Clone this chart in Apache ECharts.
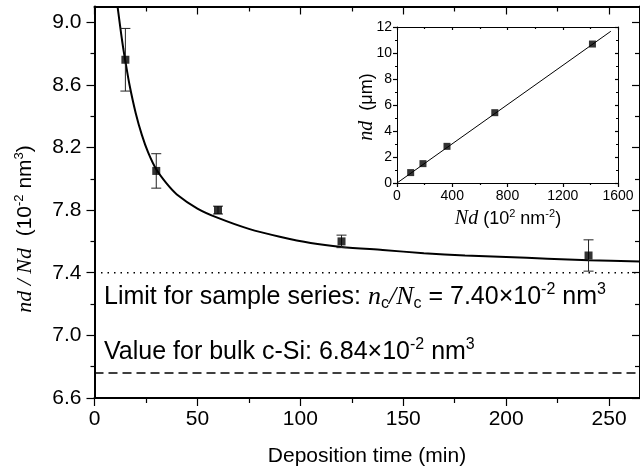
<!DOCTYPE html>
<html>
<head>
<meta charset="utf-8">
<script src="https://cdn.jsdelivr.net/npm/echarts@6/dist/echarts.min.js"></script>
<style>
  html, body { margin: 0; padding: 0; background: #fff; }
  #chart { width: 640px; height: 472px; }
</style>
</head>
<body>
<div id="chart"></div>
<script>
// main panel: nd/Nd against deposition time
const depTime = [15, 30, 60, 120, 240];
const ratio = [8.76, 8.05, 7.80, 7.60, 7.51];
const ratioErr = [0.20, 0.11, 0.025, 0.04, 0.10];

// fitted curve
const fitTime = [11.2, 12, 13, 14, 15, 17, 20, 23, 26, 30, 35, 40, 50, 60, 75, 90, 105, 120, 140, 160, 180, 200, 220, 240, 265];
const fitRatio = [9.10, 9.02, 8.92, 8.83, 8.75, 8.60, 8.42, 8.28, 8.17, 8.06, 7.97, 7.90, 7.81, 7.75, 7.68, 7.63, 7.59, 7.565, 7.545, 7.525, 7.51, 7.50, 7.49, 7.48, 7.472];

const limitLine = 7.40;
const bulkLine = 6.76; // where the dashed line is drawn in the figure

const timeTicks = [0, 50, 100, 150, 200, 250];
const timeMinor = [25, 75, 125, 175, 225];
const ratioTicks = [6.6, 7.0, 7.4, 7.8, 8.2, 8.6, 9.0];
const ratioMinor = [6.8, 7.2, 7.6, 8.0, 8.4, 8.8];

// inset: nd against Nd
const insetNd = [99, 188, 362, 708, 1415];
const insetnd = [0.80, 1.49, 2.82, 5.41, 10.69];
const insetFitNd = [0, 1548];
const insetFitnd = [0, 11.67];
const insetXTicks = [0, 400, 800, 1200, 1600];
const insetXMinor = [200, 600, 1000, 1400];
const insetYTicks = [0, 2, 4, 6, 8, 10, 12];
const insetYMinor = [1, 3, 5, 7, 9, 11];

const SANS = "Liberation Sans";
const SERIF = "Liberation Serif";

const chart = echarts.init(document.getElementById("chart"));

function tickAxis(grid, position, min, max, ticks, len, inside, extra) {
  return Object.assign({
    type: "value",
    gridIndex: grid,
    position: position,
    min: min,
    max: max,
    axisLine: { show: false, onZero: false },
    axisTick: { show: true, inside: inside, length: len, customValues: ticks, lineStyle: { color: "#000", width: 1.2 } },
    axisLabel: { show: false },
    splitLine: { show: false },
  }, extra || {});
}

const mainLine = { show: true, onZero: false, lineStyle: { color: "#000", width: 2 } };
const insetLine = { show: true, onZero: false, lineStyle: { color: "#000", width: 1 } };
const plain = (v) => String(v);

const xAxes = [
  tickAxis(0, "bottom", 0, 265, timeTicks, 8, false, {
    axisLine: mainLine,
    axisLabel: { show: true, customValues: timeTicks, fontFamily: SANS, fontSize: 21, color: "#000", margin: 11, formatter: plain },
  }),
  tickAxis(0, "bottom", 0, 265, timeMinor, 5, false),
  tickAxis(0, "top", 0, 265, timeTicks, 8, true, { axisLine: mainLine }),
  tickAxis(0, "top", 0, 265, timeMinor, 5, true),
  tickAxis(1, "bottom", 0, 1600, insetXTicks, 4, false, {
    axisLine: insetLine,
    axisLabel: { show: true, customValues: insetXTicks, fontFamily: SANS, fontSize: 14, color: "#000", margin: 6, formatter: plain },
  }),
  tickAxis(1, "bottom", 0, 1600, insetXMinor, 2, false),
  tickAxis(1, "top", 0, 1600, insetXTicks, 3, true, { axisLine: insetLine }),
  tickAxis(1, "top", 0, 1600, insetXMinor, 2, true),
];

const yAxes = [
  tickAxis(0, "left", 6.6, 9.1, ratioTicks, 8, false, {
    axisLine: mainLine,
    axisLabel: {
      show: true, customValues: ratioTicks, fontFamily: SANS, fontSize: 21, color: "#000", margin: 13,
      formatter: (v) => v.toFixed(1),
    },
  }),
  tickAxis(0, "left", 6.6, 9.1, ratioMinor, 4, false),
  tickAxis(0, "right", 6.6, 9.1, ratioTicks, 8, true, { axisLine: mainLine }),
  tickAxis(0, "right", 6.6, 9.1, ratioMinor, 5, true),
  tickAxis(1, "left", 0, 12, insetYTicks, 4, false, {
    axisLine: insetLine,
    axisLabel: { show: true, customValues: insetYTicks, fontFamily: SANS, fontSize: 14, color: "#000", margin: 5, formatter: plain },
  }),
  tickAxis(1, "left", 0, 12, insetYMinor, 2, false),
  tickAxis(1, "right", 0, 12, insetYTicks, 3, true, { axisLine: insetLine }),
  tickAxis(1, "right", 0, 12, insetYMinor, 2, true),
];

function richText(size, italicSize) {
  const small = Math.round(size * 0.62);
  return {
    s: { fontFamily: SANS, fontSize: size, lineHeight: size + 4, color: "#000" },
    i: { fontFamily: SERIF, fontStyle: "italic", fontSize: italicSize, lineHeight: size + 4, color: "#000" },
    sup: { fontFamily: SANS, fontSize: small, lineHeight: small, padding: [0, 0, Math.round(size * 0.55), 0], color: "#000" },
    sub: { fontFamily: SANS, fontSize: small, lineHeight: small, padding: [Math.round(size * 0.55), 0, 0, 0], color: "#000" },
  };
}

const option = {
  animation: false,
  backgroundColor: "#fff",
  grid: [
    { left: 94.5, top: 6.5, width: 550, height: 391.5 },
    { left: 397, top: 27, width: 221, height: 156 },
  ],
  xAxis: xAxes,
  yAxis: yAxes,
  series: [
    {
      name: "fit",
      type: "line",
      xAxisIndex: 0,
      yAxisIndex: 0,
      data: fitTime.map((t, i) => [t, fitRatio[i]]),
      smooth: 0.3,
      showSymbol: false,
      lineStyle: { color: "#000", width: 2 },
      clip: true,
      z: 3,
    },
    {
      name: "limit",
      type: "line",
      xAxisIndex: 0,
      yAxisIndex: 0,
      data: [[0, limitLine], [265, limitLine]],
      showSymbol: false,
      lineStyle: { color: "#000", width: 1.5, type: [1.5, 5] },
    },
    {
      name: "bulk",
      type: "line",
      xAxisIndex: 0,
      yAxisIndex: 0,
      data: [[0, bulkLine], [265, bulkLine]],
      showSymbol: false,
      lineStyle: { color: "#000", width: 1.5, type: [9, 5] },
    },
    {
      name: "errors",
      type: "custom",
      xAxisIndex: 0,
      yAxisIndex: 0,
      data: depTime.map((t, i) => [t, ratio[i] - ratioErr[i], ratio[i] + ratioErr[i]]),
      encode: { x: 0, y: [1, 2] },
      renderItem(params, api) {
        const lo = api.coord([api.value(0), api.value(1)]);
        const hi = api.coord([api.value(0), api.value(2)]);
        const cap = 5;
        const st = { stroke: "#222", lineWidth: 1 };
        return {
          type: "group",
          children: [
            { type: "line", shape: { x1: lo[0], y1: lo[1], x2: hi[0], y2: hi[1] }, style: st },
            { type: "line", shape: { x1: lo[0] - cap, y1: lo[1], x2: lo[0] + cap, y2: lo[1] }, style: st },
            { type: "line", shape: { x1: hi[0] - cap, y1: hi[1], x2: hi[0] + cap, y2: hi[1] }, style: st },
          ],
        };
      },
      z: 4,
    },
    {
      name: "data",
      type: "scatter",
      xAxisIndex: 0,
      yAxisIndex: 0,
      data: depTime.map((t, i) => [t, ratio[i]]),
      symbol: "rect",
      symbolSize: 8,
      itemStyle: { color: "#000" },
      z: 5,
    },
    {
      name: "inset fit",
      type: "line",
      xAxisIndex: 4,
      yAxisIndex: 4,
      data: insetFitNd.map((x, i) => [x, insetFitnd[i]]),
      showSymbol: false,
      lineStyle: { color: "#000", width: 1 },
    },
    {
      name: "inset data",
      type: "scatter",
      xAxisIndex: 4,
      yAxisIndex: 4,
      data: insetNd.map((x, i) => [x, insetnd[i]]),
      symbol: "rect",
      symbolSize: 7,
      itemStyle: { color: "#000" },
    },
  ],
  graphic: [
    {
      type: "text",
      x: 25,
      y: 229,
      rotation: Math.PI / 2,
      style: {
        text: "{i|nd / Nd}{s|  (10}{sup|-2}{s| nm}{sup|3}{s|)}",
        rich: richText(21, 22),
        align: "center",
        verticalAlign: "middle",
      },
    },
    {
      type: "text",
      x: 367,
      y: 456,
      style: {
        text: "Deposition time (min)",
        fontFamily: SANS,
        fontSize: 21,
        fill: "#000",
        align: "center",
        verticalAlign: "middle",
      },
    },
    {
      type: "text",
      x: 104,
      y: 297,
      style: {
        text: "{s|Limit for sample series: }{i|n}{sub|c}{i|/N}{sub|c}{s| = 7.40×10}{sup|-2}{s| nm}{sup|3}",
        rich: richText(25, 26),
        align: "left",
        verticalAlign: "middle",
      },
    },
    {
      type: "text",
      x: 104,
      y: 352,
      style: {
        text: "{s|Value for bulk c-Si: 6.84×10}{sup|-2}{s| nm}{sup|3}",
        rich: richText(25, 26),
        align: "left",
        verticalAlign: "middle",
      },
    },
    {
      type: "text",
      x: 367,
      y: 107,
      rotation: Math.PI / 2,
      style: {
        text: "{i|nd}{s|  (μm)}",
        rich: richText(18, 20),
        align: "center",
        verticalAlign: "middle",
      },
    },
    {
      type: "text",
      x: 508,
      y: 219,
      style: {
        text: "{i|Nd}{s| (10}{sup|2}{s| nm}{sup|-2}{s|)}",
        rich: richText(18, 20),
        align: "center",
        verticalAlign: "middle",
      },
    },
  ],
};

chart.setOption(option);
</script>
</body>
</html>
